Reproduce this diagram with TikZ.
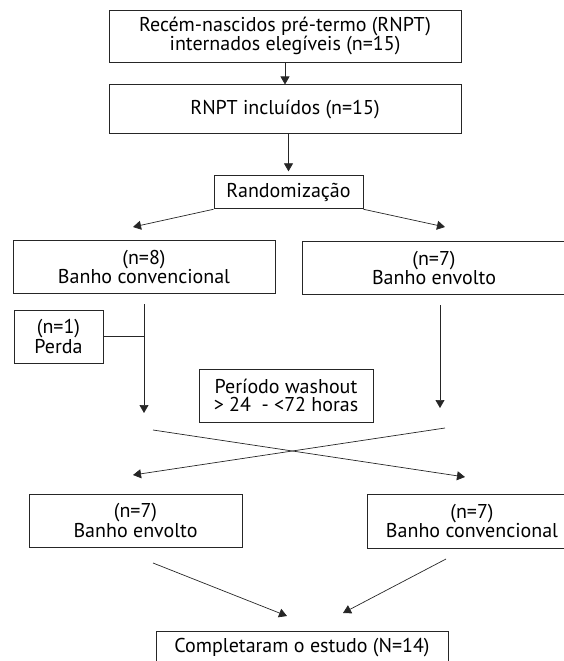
\documentclass[tikz,border=0pt]{standalone}
\usepackage{fontspec}
\setmainfont{PT Sans}
\usepackage{tikz}
\usetikzlibrary{positioning, arrows.meta, calc}

\begin{document}
\begin{tikzpicture}[
    x=1pt, y=-1pt,
    node distance=22pt,
    flowbox/.style={
        rectangle,
        draw=black!85,
        line width=0.9pt,
        inner sep=0pt,
        align=center,
        font=\fontsize{20}{18.5}\selectfont
    },
    link/.style={
        -{Triangle[length=8pt,width=9pt]},
        line width=0.7pt,
        draw=black!85
    }
]
    \useasboundingbox (0,0) rectangle (563,661);

    % Inclusion
    \node[flowbox, minimum width=352pt, minimum height=52pt] (elig) at (285,36) {Recém-nascidos pré-termo (RNPT)\\internados elegíveis (n=15)};
    \node[flowbox, minimum width=352pt, minimum height=49pt, below=22pt of elig] (incl) {RNPT incluídos (n=15)};
    \node[flowbox, minimum width=149pt, minimum height=33pt, below=41pt of incl, xshift=3.5pt] (rand) {Randomização};

    % First period
    \node[flowbox, minimum width=262pt, minimum height=53pt, below=31pt of rand, xshift=-144.5pt] (conv1) {(n=8)\\Banho convencional};
    \node[flowbox, minimum width=264pt, minimum height=53pt, below=32pt of rand, xshift=145.5pt] (env1) {(n=7)\\Banho envolto};
    \node[flowbox, minimum width=89pt, minimum height=53pt] (perda) at (58.5,336.5) {(n=1)\\Perda};
    \node[flowbox, minimum width=174pt, minimum height=53pt] (wash) at (286,395.5) {Período washout\\> 24\ \ - <72 horas};

    % Second period
    \node[flowbox, minimum width=213pt, minimum height=53pt] (env2) at (135.5,520.5) {(n=7)\\Banho envolto};
    \node[flowbox, minimum width=210pt, minimum height=54pt] (conv2) at (472,521) {(n=7)\\Banho convencional};
    \node[flowbox, minimum width=292pt, minimum height=34pt] (fim) at (302,648) {Completaram o estudo (N=14)};

    % Free ends
    \coordinate (rl) at (133,227);
    \coordinate (rr) at (445,227);
    \coordinate (ltop) at (144,304);
    \coordinate (lend) at (144,413);
    \coordinate (rtop) at (440,305);
    \coordinate (rend) at (440,408);
    \coordinate (xa) at (153,430);
    \coordinate (xaend) at (465,477);
    \coordinate (xb) at (445,428);
    \coordinate (xbend) at (133,475);
    \coordinate (fl) at (153,563);
    \coordinate (flend) at (287,616);
    \coordinate (fr) at (446,559);
    \coordinate (frend) at (343,613);

    % Arrows
    \draw[link] (elig) -- (incl);
    \draw[link, shorten >=4pt] (incl.south -| rand) -- (rand);
    \draw[link] (rand.south west) -- (rl);
    \draw[link] (rand.south east) -- (rr);
    \draw[link] (ltop) -- (lend);
    \draw[line width=0.7pt, draw=black!85] (perda) -- (perda -| ltop);
    \draw[link] (rtop) -- (rend);
    \draw[link] (xa) -- (xaend);
    \draw[link] (xb) -- (xbend);
    \draw[link] (fl) -- (flend);
    \draw[link] (fr) -- (frend);
\end{tikzpicture}
\end{document}
